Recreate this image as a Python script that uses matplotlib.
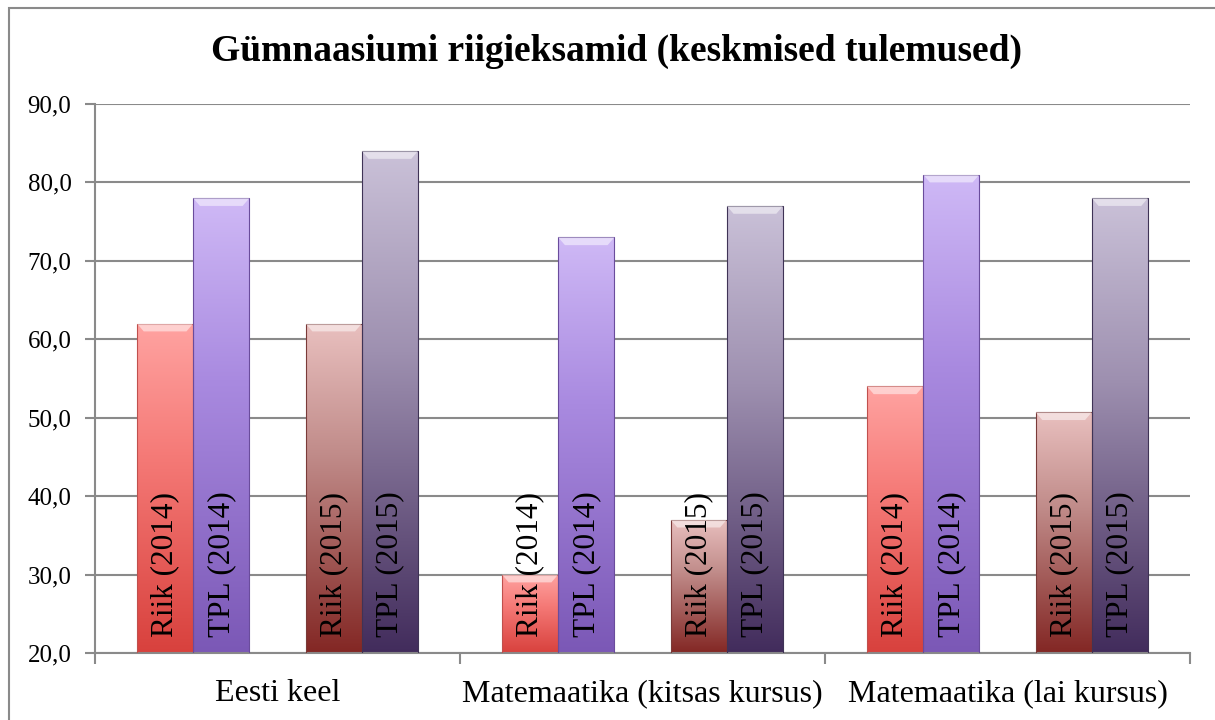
import numpy as np
import matplotlib
matplotlib.use('Agg')
import matplotlib.pyplot as plt
from matplotlib.colors import LinearSegmentedColormap
from matplotlib.patches import Rectangle, Polygon

plt.rcParams['font.family'] = ['Liberation Serif', 'DejaVu Serif']

categories = ['Eesti keel', 'Matemaatika (kitsas kursus)', 'Matemaatika (lai kursus)']
series = ['Riik (2014)', 'TPL (2014)', 'Riik (2015)', 'TPL (2015)']
riik_2014 = [62.0, 30.0, 54.0]
tpl_2014 = [78.0, 73.0, 81.0]
riik_2015 = [62.0, 37.0, 50.7]
tpl_2015 = [84.0, 77.0, 78.0]
values = [riik_2014, tpl_2014, riik_2015, tpl_2015]

# gradient (top, middle, bottom) for each series
grads = [('#ffa3a1', '#f57a77', '#d8413d'),
         ('#cfb9f6', '#a98ae0', '#7b58b6'),
         ('#e9c0bf', '#c08b89', '#832724'),
         ('#cac1d8', '#9e90b0', '#422c5c')]
edges = ['#c0504d', '#6a4c9c', '#7a3a38', '#3f3356']
offsets = [-0.308, -0.154, 0.154, 0.308]
width = 0.154
ymin, ymax = 20, 90

fig = plt.figure(figsize=(12.15, 7.2), dpi=100)
ax = fig.add_axes([0.0782, 0.0931, 0.9012, 0.7625])

x = np.arange(len(categories))
grad = np.linspace(0, 1, 256).reshape(-1, 1)
for s, vals in enumerate(values):
    cmap = LinearSegmentedColormap.from_list(
        'g%d' % s, [(0, grads[s][2]), (0.6, grads[s][1]), (1, grads[s][0])])
    bars = ax.bar(x + offsets[s], np.array(vals) - ymin, width, bottom=ymin,
                  facecolor='none', edgecolor=edges[s], linewidth=0.8, zorder=3)
    for b, v in zip(bars, vals):
        x0 = b.get_x()
        im = ax.imshow(grad, cmap=cmap, aspect='auto', origin='lower',
                       extent=(x0, x0 + width, ymin, v), zorder=2)
        im.set_clip_path(b)
        # bevel highlight at the top
        dx = width * 0.12
        dy = 1.0
        ax.add_patch(Polygon([(x0, v), (x0 + width, v), (x0 + width - dx, v - dy),
                              (x0 + dx, v - dy)], closed=True, facecolor='white',
                             alpha=0.5, edgecolor='none', zorder=3))
        ax.text(x0 + width / 2, ymin + 2.0, series[s], rotation=90, ha='center',
                va='bottom', fontsize=22.5, color='black', zorder=5)

ax.set_xlim(-0.5, 2.5)
ax.set_ylim(ymin, ymax)

ax.set_yticks(np.arange(20, 91, 10))
ax.set_yticklabels(['%d,0' % t for t in range(20, 91, 10)], fontsize=18)
ax.yaxis.grid(True, color='#8a8a8a', linewidth=1.5, zorder=0)
ax.set_axisbelow(True)

ax.set_xticks(x)
ax.set_xticklabels(categories, fontsize=23)
ax.set_xticks(np.arange(-0.5, 2.6, 1), minor=True)
ax.tick_params(axis='x', which='major', length=0, pad=19)
ax.tick_params(axis='x', which='minor', length=8, width=1.5, color='#8a8a8a')
ax.tick_params(axis='y', length=7, width=1.5, color='#8a8a8a', pad=10)

for side in ['top', 'right']:
    ax.spines[side].set_visible(False)
for side in ['left', 'bottom']:
    ax.spines[side].set_color('#8a8a8a')
    ax.spines[side].set_linewidth(1.5)

fig.text(0.507, 0.928, 'Gümnaasiumi riigieksamid (keskmised tulemused)',
         ha='center', va='center', fontsize=27, fontweight='bold')

# outer chart frame
fig.patches.append(Rectangle((9 / 1215, -0.05), 1.1, 1 - 8 / 720 + 0.05,
                             transform=fig.transFigure, fill=False,
                             edgecolor='#8a8a8a', linewidth=1.5))

fig.savefig('out.png', dpi=100)
